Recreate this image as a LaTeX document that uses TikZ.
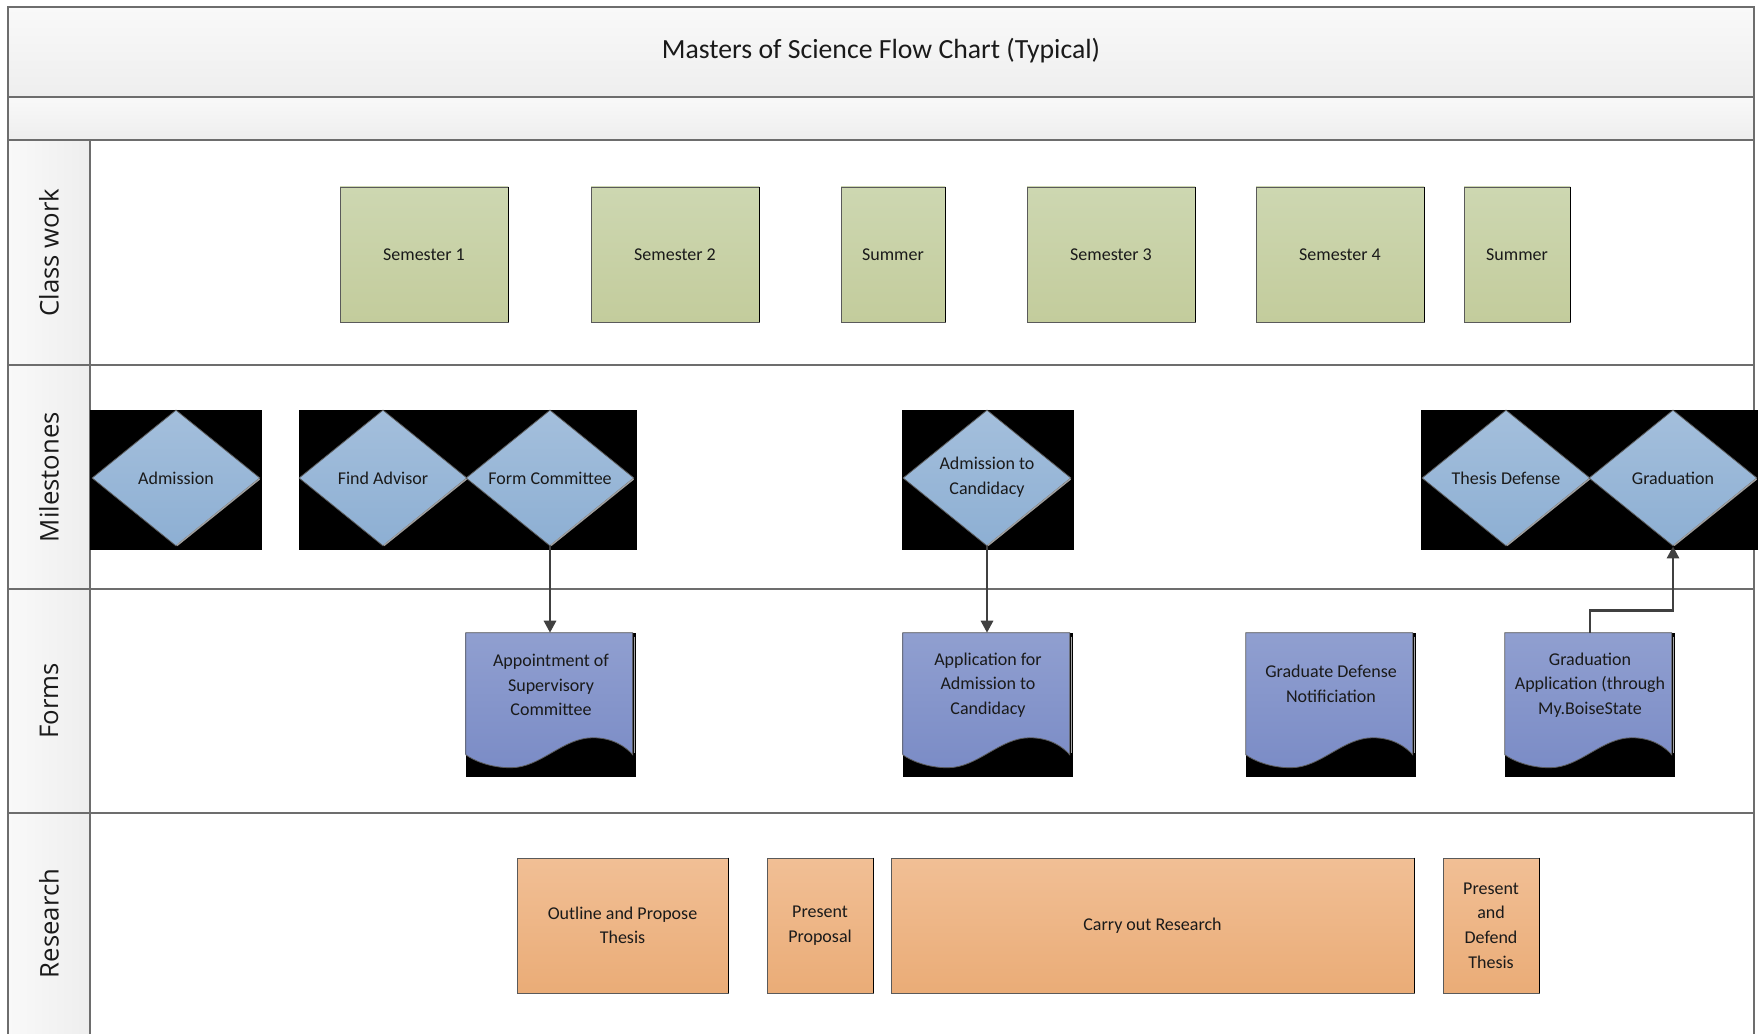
\documentclass[tikz,border=0pt]{standalone}
\usepackage{fontspec}
\setmainfont{Carlito}
\newfontfamily\lanefont{Open Sans}
\usetikzlibrary{shapes.geometric,calc,arrows.meta}

\definecolor{bandA}{HTML}{F9F9F9}
\definecolor{bandB}{HTML}{EEEEEE}
\definecolor{frameC}{HTML}{6D6D6D}
\definecolor{semA}{HTML}{CDD7B1}
\definecolor{semB}{HTML}{C3CC9C}
\definecolor{diaA}{HTML}{A4BFDC}
\definecolor{diaB}{HTML}{8DAFD3}
\definecolor{formA}{HTML}{909FD0}
\definecolor{formB}{HTML}{7B8CC6}
\definecolor{orA}{HTML}{F1BF95}
\definecolor{orB}{HTML}{EAAC77}
\definecolor{boxline}{HTML}{5A5A5A}
\definecolor{connC}{HTML}{404040}
\definecolor{txtC}{HTML}{1A1A1A}

\newcommand{\docwave}[1]{%
  \shade[top color=formA, bottom color=formB, draw=boxline, line width=0.6pt]
    ($(#1.north west)+(0,0)$) -- ($(#1.north west)+(167,0)$) -- ($(#1.north west)+(167,122)$)
    .. controls ($(#1.north west)+(160,114)$) and ($(#1.north west)+(147,105)$) .. ($(#1.north west)+(127,105)$)
    .. controls ($(#1.north west)+(97,105)$) and ($(#1.north west)+(75,135)$) .. ($(#1.north west)+(45,135)$)
    .. controls ($(#1.north west)+(25,135)$) and ($(#1.north west)+(8,128)$) .. ($(#1.north west)+(0,122)$) -- cycle;
  \draw[gray!70, line width=1pt] ($(#1.north west)+(168.5,4)$) -- ($(#1.north west)+(168.5,120)$);
}

\begin{document}
\begin{tikzpicture}[x=0.75pt,y=-0.75pt,
  boxw/.style={minimum width=#1*0.75pt},
  boxh/.style={minimum height=#1*0.75pt},
  frameline/.style={draw=frameC, line width=1.3pt},
  nodefont/.style={font=\fontsize{13.5}{18.4}\selectfont, text=txtC, align=center},
  semester/.style={rectangle, draw=boxline, line width=0.6pt, top color=semA, bottom color=semB, boxh=135, inner sep=2pt, nodefont},
  research/.style={rectangle, draw=boxline, line width=0.6pt, top color=orA, bottom color=orB, boxh=135, inner sep=2pt, nodefont},
  milestone/.style={diamond, draw=boxline, line width=0.6pt, top color=diaA, bottom color=diaB, boxw=168, boxh=136, inner sep=0pt},
  mtext/.style={nodefont, inner sep=1pt},
  docbase/.style={rectangle, fill=black, boxw=170, boxh=144, inner sep=0pt},
  doctext/.style={nodefont, inner sep=1pt},
  lanelabel/.style={rotate=90, font=\lanefont\fontsize{19.3}{22}\selectfont, text=txtC},
  conn/.style={draw=connC, line width=2.1pt, -{Triangle[width=9pt,length=9pt]}},
]
\useasboundingbox (0,0) rectangle (1758,1034);
\fill[white] (0,0) rectangle (1758,1034);

% bands
\shade[top color=bandA, bottom color=bandB] (8,7) rectangle (1754,97);
\shade[top color=bandA, bottom color=bandB] (8,97) rectangle (1754,140);
\shade[left color=bandA, right color=bandB] (8,140) rectangle (90,1034);

% frame and lanes
\draw[frameline] (8,1034) -- (8,7) -- (1754,7) -- (1754,1034);
\draw[frameline] (8,97) -- (1754,97);
\draw[frameline] (8,140) -- (1754,140);
\draw[frameline] (8,365) -- (1754,365);
\draw[frameline] (8,589) -- (1754,589);
\draw[frameline] (8,813) -- (1754,813);
\draw[frameline] (90,140) -- (90,1034);

\node[font=\fontsize{20.8}{24}\selectfont, text=txtC] (title) at (881,51) {Masters of Science Flow Chart (Typical)};

\node[lanelabel] (lane1) at (49,252.5) {Class work};
\node[lanelabel] (lane2) at (49,477) {Milestones};
\node[lanelabel] (lane3) at (49,701) {Forms};
\node[lanelabel] (lane4) at (49,923.5) {Research};

% class work
\node[semester, boxw=168] (s1) at (424,254.5) {Semester 1};
\node[semester, boxw=168] (s2) at (675,254.5) {Semester 2};
\node[semester, boxw=104] (su1) at (893,254.5) {Summer};
\node[semester, boxw=168] (s3) at (1111,254.5) {Semester 3};
\node[semester, boxw=168] (s4) at (1340,254.5) {Semester 4};
\node[semester, boxw=106] (su2) at (1517,254.5) {Summer};

% milestones background
\fill[black] (90,410) rectangle (262,550);
\fill[black] (299,410) rectangle (637,550);
\fill[black] (902,410) rectangle (1074,550);
\fill[black] (1421,410) rectangle (1758,550);

\node[milestone] (adm) at (176,478) {};
\node[milestone] (fa) at (383,478) {};
\node[milestone] (fc) at (550,478) {};
\node[milestone] (cand) at (987,478) {};
\node[milestone] (td) at (1506,478) {};
\node[milestone] (grad) at (1673,478) {};
\foreach \n in {adm,fa,fc,cand,td,grad}
  \draw[gray!75, line width=1.2pt] ($(\n.east)+(-1,1)$) -- ($(\n.south)+(1,-1)$);

\node[mtext] (admT) at (adm) {Admission};
\node[mtext] (faT) at (fa) {Find Advisor};
\node[mtext] (fcT) at (fc) {Form Committee};
\node[mtext] (candT) at (987,477) {Admission to\\Candidacy};
\node[mtext] (tdT) at (td) {Thesis Defense};
\node[mtext] (gradT) at (grad) {Graduation};

% forms
\node[docbase] (d1) at (551,705) {};
\node[docbase] (d2) at (988,705) {};
\node[docbase] (d3) at (1331,705) {};
\node[docbase] (d4) at (1590,705) {};
\docwave{d1}
\docwave{d2}
\docwave{d3}
\docwave{d4}
\node[doctext] (d1T) at (551,685) {Appointment of\\Supervisory\\Committee};
\node[doctext] (d2T) at (988,685) {Application for\\Admission to\\Candidacy};
\node[doctext] (d3T) at (1331,684) {Graduate Defense\\Notificiation};
\node[doctext] (d4T) at (1590,685) {Graduation\\Application (through\\My.BoiseState};

% research
\node[research, boxw=211] (r1) at (622.5,925.5) {Outline and Propose\\Thesis};
\node[research, boxw=106] (r2) at (820,925.5) {Present\\Proposal};
\node[research, boxw=523] (r3) at (1152.5,925.5) {Carry out Research};
\node[research, boxw=96] (r4) at (1491,925.5) {Present\\and\\Defend\\Thesis};

\foreach \n in {s1,s2,su1,s3,s4,su2,r1,r2,r3,r4}
  \draw[black, line width=1.2pt] (\n.north east) -- (\n.south east);

% connectors
\draw[conn] (fc.south) -- (d1.north -| fc.south);
\draw[conn] (cand.south) -- (d2.north -| cand.south);
\draw[conn] (d4.north) -- ++(0,-22) -| (grad.south);
\end{tikzpicture}
\end{document}
